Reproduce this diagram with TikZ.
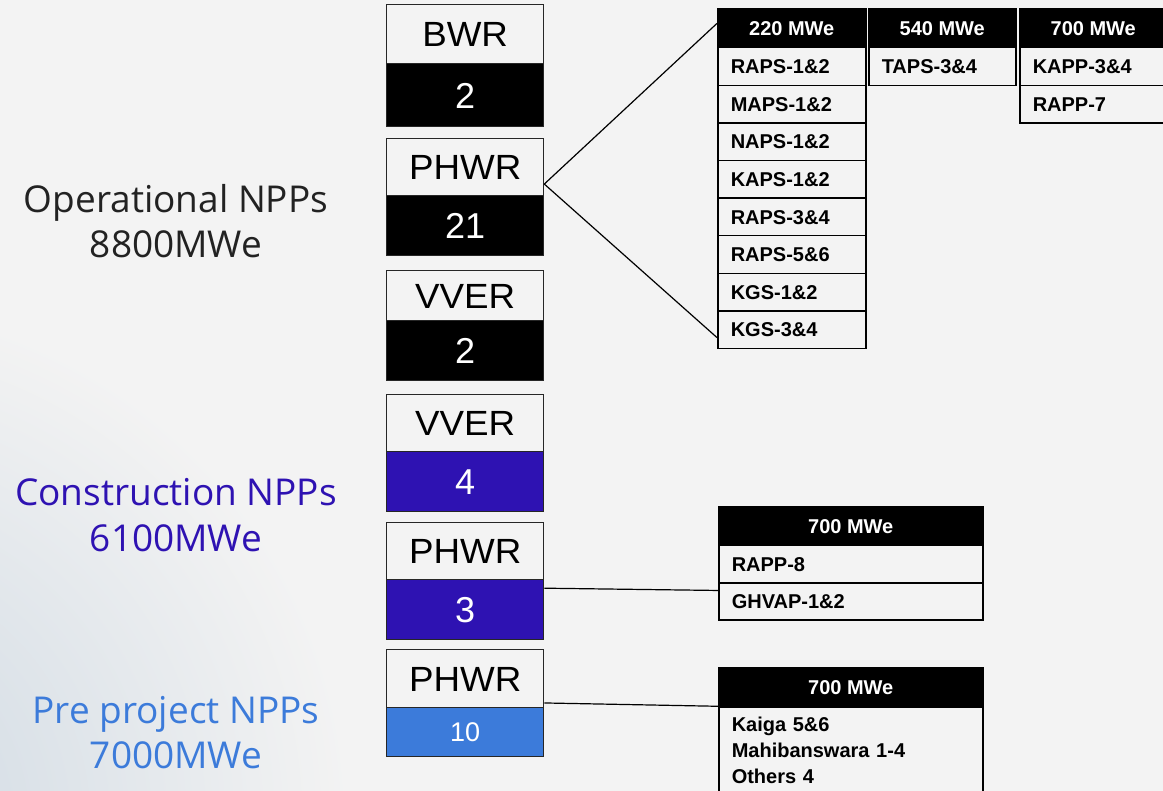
\documentclass[tikz,border=0pt]{standalone}
\usepackage{fontspec}
\setmainfont{Liberation Sans}
\newfontfamily\boxfont{Liberation Sans}[FakeStretch=1.05]
\newfontfamily\labfont{Open Sans}
\usetikzlibrary{calc}
\definecolor{bg}{HTML}{F3F3F3}
\definecolor{conblue}{HTML}{2E12B2}
\definecolor{preblue}{HTML}{3C7BDA}
\definecolor{gradblue}{HTML}{CDD8E2}
\definecolor{labgray}{HTML}{222222}
\tikzset{
  typecell/.style={draw=black!85, line width=1.3pt, fill=bg, minimum width=157pt,
    anchor=north west, inner sep=0pt, font=\boxfont\fontsize{35}{40}\selectfont,
    text height=25pt, text depth=0pt},
  countcell/.style={draw=black!85, line width=1.3pt, minimum width=157pt,
    anchor=north west, inner sep=0pt, text=white, font=\fontsize{36}{40}\selectfont,
    text height=25.8pt, text depth=0pt},
  hdr/.style={draw=black, line width=1.5pt, fill=black, text=white,
    font=\bfseries\fontsize{20}{24}\selectfont, minimum height=39pt,
    anchor=north west, inner sep=0pt, text height=14.5pt, text depth=0pt},
  cell/.style={draw=black, line width=1.5pt, fill=bg,
    font=\bfseries\fontsize{20}{24}\selectfont, minimum height=37.6pt,
    anchor=north west, inner xsep=13pt, inner ysep=0pt, align=left,
    text height=14.5pt, text depth=0pt},
  lab/.style={font=\labfont\fontsize{37}{44}\selectfont, anchor=base, inner sep=0pt},
  link/.style={draw=black, line width=1.2pt}
}
\begin{document}
\begin{tikzpicture}[x=1pt,y=-1pt]
\useasboundingbox (0,0) rectangle (1163,791);
\clip (0,0) rectangle (1163,791);
\fill[bg] (0,0) rectangle (1163,791);
\shade[inner color=gradblue, outer color=bg] (-170,820) circle (520);

% left labels
\node[lab, text=labgray] (op1) at (176,213) {Operational NPPs};
\node[lab, text=labgray] (op2) at (176,258) {8800MWe};
\node[lab, text=conblue] (co1) at (176,506) {Construction NPPs};
\node[lab, text=conblue] (co2) at (176,551) {6100MWe};
\node[lab, text=preblue] (pr1) at (176,723) {Pre project NPPs};
\node[lab, text=preblue] (pr2) at (176,768) {7000MWe};

% reactor boxes
\node[typecell, minimum height=59pt] (bwrt) at (386,4) {BWR};
\node[countcell, fill=black, minimum height=63pt] (bwrc) at (386,63) {2};
\node[typecell, minimum height=57pt] (phwr1t) at (386,138) {PHWR};
\node[countcell, fill=black, minimum height=60pt] (phwr1c) at (386,195) {21};
\node[typecell, minimum height=50pt] (vver1t) at (386,270) {VVER};
\node[countcell, fill=black, minimum height=60pt] (vver1c) at (386,320) {2};
\node[typecell, minimum height=57pt] (vver2t) at (386,394) {VVER};
\node[countcell, fill=conblue, minimum height=60pt] (vver2c) at (386,451) {4};
\node[typecell, minimum height=57pt] (phwr2t) at (386,522) {PHWR};
\node[countcell, fill=conblue, minimum height=60pt] (phwr2c) at (386,579) {3};
\node[typecell, minimum height=58pt] (phwr3t) at (386,649) {PHWR};
\node[countcell, fill=preblue, minimum height=49pt, font=\fontsize{27}{32}\selectfont, text height=19.5pt] (phwr3c) at (386,707) {10};

% operational tables
\node[hdr, minimum width=148pt] (h220) at (717,8) {220 MWe};
\node[cell, text width=122pt] (r1) at (717,47) {RAPS-1\&2};
\node[cell, text width=122pt] (r2) at (717,84.6) {MAPS-1\&2};
\node[cell, text width=122pt] (r3) at (717,122.2) {NAPS-1\&2};
\node[cell, text width=122pt] (r4) at (717,159.8) {KAPS-1\&2};
\node[cell, text width=122pt] (r5) at (717,197.4) {RAPS-3\&4};
\node[cell, text width=122pt] (r6) at (717,235) {RAPS-5\&6};
\node[cell, text width=122pt] (r7) at (717,272.6) {KGS-1\&2};
\node[cell, text width=122pt] (kgs34) at (717,310.2) {KGS-3\&4};

\node[hdr, minimum width=147pt] (h540) at (868,8) {540 MWe};
\node[cell, text width=121pt, minimum height=38pt] (taps) at (868,47) {TAPS-3\&4};

\node[hdr, minimum width=147pt] (h700) at (1019,8) {700 MWe};
\node[cell, text width=121pt] (kapp) at (1019,47) {KAPP-3\&4};
\node[cell, text width=121pt] (rapp7) at (1019,84.6) {RAPP-7};

% construction table
\node[hdr, minimum width=264pt] (conhdr) at (718,506) {700 MWe};
\node[cell, text width=238pt, minimum height=37pt] (rapp8) at (718,545) {RAPP-8};
\node[cell, text width=238pt, minimum height=37pt] (ghvap) at (718,582) {GHVAP-1\&2};

% pre-project table
\node[cell, text width=238pt, inner ysep=10pt, text height=14.5pt, text depth=70pt,
  font=\bfseries\fontsize{20}{26}\selectfont] (prebody) at (718,706)
  {Kaiga 5\&6\\Mahibanswara 1-4\\Others 4};
\node[hdr, minimum width=264pt] (prehdr) at (718,667) {700 MWe};

% connectors
\coordinate (apex) at ($(phwr1t.north east)!0.79!(phwr1t.south east)$);
\draw[link] (apex) -- ($(h220.north west)!0.38!(h220.south west)$);
\draw[link] (apex) -- ($(kgs34.north west)!0.7!(kgs34.south west)$);
\draw[link] ($(phwr2c.north east)!0.15!(phwr2c.south east)$) -- ($(ghvap.north west)!0.22!(ghvap.south west)$);
\draw[link] ($(phwr3t.north east)!0.91!(phwr3t.south east)$) -- ($(prehdr.north west)!0.97!(prehdr.south west)$);
\end{tikzpicture}
\end{document}
